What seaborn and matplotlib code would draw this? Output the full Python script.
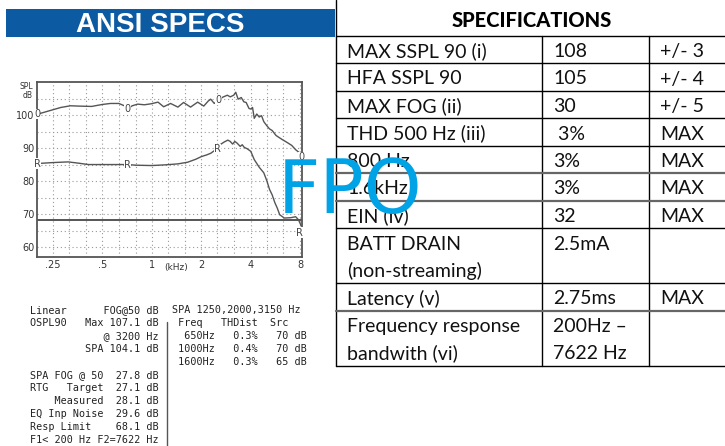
import matplotlib
matplotlib.use("Agg")
import numpy as np
import pandas as pd
import seaborn as sns
import matplotlib.pyplot as plt
from matplotlib.patches import Rectangle
from matplotlib.ticker import NullFormatter

# OSPL90 curve ("0"): kHz / dB SPL
freq_o = [0.20, 0.22, 0.25, 0.28, 0.32, 0.36, 0.43, 0.50, 0.56, 0.63, 0.68, 0.71,
          0.76, 0.82, 0.90, 0.99, 1.09, 1.18, 1.30, 1.44, 1.56, 1.72, 1.90, 2.07,
          2.20, 2.28, 2.40, 2.55, 2.70, 2.88, 3.00, 3.15, 3.24, 3.35, 3.50, 3.63,
          3.75, 3.90, 4.00, 4.10, 4.20, 4.35, 4.50, 4.65, 4.80, 5.00, 5.20, 5.40,
          5.70, 6.20, 6.60, 7.10, 7.50, 7.90, 8.10]
spl_o = [100.2, 100.8, 101.6, 102.3, 102.8, 102.7, 102.6, 103.2, 103.5, 103.5, 102.8, 101.9,
         102.8, 103.3, 103.1, 103.4, 103.9, 102.5, 103.5, 102.4, 103.8, 102.4, 103.9, 102.7,
         104.2, 104.8, 103.5, 104.6, 105.4, 106.0, 105.5, 106.0, 106.9, 104.8, 105.3, 104.0,
         103.8, 102.0, 101.8, 102.3, 99.0, 100.3, 99.4, 99.8, 98.0, 96.8, 95.8, 95.3,
         93.8, 92.6, 91.8, 90.8, 89.5, 88.6, 87.3]

# reference test gain curve ("R")
freq_r = [0.20, 0.25, 0.31, 0.36, 0.41, 0.50, 0.60, 0.71, 0.80, 1.00, 1.20, 1.44,
          1.65, 1.85, 2.00, 2.15, 2.28, 2.40, 2.50, 2.60, 2.75, 2.90, 3.00, 3.10,
          3.20, 3.30, 3.45, 3.55, 3.65, 3.80, 4.00, 4.20, 4.50, 4.80, 5.00, 5.20,
          5.40, 5.60, 5.80, 6.00, 6.40, 7.00, 7.50, 7.80, 8.10]
spl_r = [85.3, 85.6, 85.8, 85.4, 85.0, 85.0, 85.0, 85.0, 84.8, 84.7, 84.9, 85.2,
         85.7, 86.6, 87.4, 87.9, 88.4, 89.2, 89.8, 91.0, 91.8, 92.4, 92.0, 91.2,
         92.0, 91.5, 90.5, 91.0, 90.2, 89.8, 89.0, 86.5, 84.2, 82.5, 80.2, 77.5,
         75.8, 73.5, 71.8, 69.8, 68.8, 68.9, 69.2, 68.3, 66.5]

resp_limit = 68.1
o_mark_freqs = [0.20, 0.71, 2.55, 8.10]
r_mark_freqs = [0.20, 0.71, 2.50, 8.10]

x_ticks = [0.25, 0.5, 1, 2, 4, 8]
x_tick_labels = [".25", ".5", "1", "2", "4", "8"]
third_oct = [0.315, 0.4, 0.63, 0.8, 1.25, 1.6, 2.5, 3.15, 5, 6.3]
y_ticks = [60, 70, 80, 90, 100]
y_minor = [65, 75, 85, 95, 105]

left_lines = [
    "Linear      FOG@50 dB",
    "OSPL90   Max 107.1 dB",
    "            @ 3200 Hz",
    "         SPA 104.1 dB",
    "",
    "SPA FOG @ 50  27.8 dB",
    "RTG   Target  27.1 dB",
    "    Measured  28.1 dB",
    "EQ Inp Noise  29.6 dB",
    "Resp Limit    68.1 dB",
    "F1< 200 Hz F2=7622 Hz",
]
right_lines = [
    "SPA 1250,2000,3150 Hz",
    " Freq   THDist  Src",
    "  650Hz   0.3%   70 dB",
    " 1000Hz   0.4%   70 dB",
    " 1600Hz   0.3%   65 dB",
]

spec_names = ["MAX SSPL 90 (i)", "HFA SSPL 90", "MAX FOG (ii)", "THD 500 Hz (iii)",
              "800 Hz", "1.6kHz", "EIN (iv)", "BATT DRAIN\n(non-streaming)",
              "Latency (v)", "Frequency response\nbandwith (vi)"]
spec_values = ["108", "105", "30", " 3%", "3%", "3%", "32", "2.5mA", "2.75ms",
               "200Hz \u2013\n7622 Hz"]
spec_tols = ["+/- 3", "+/- 4", "+/- 5", "MAX", "MAX", "MAX", "MAX", "", "MAX", ""]

sns.set_theme(style="white")
W, H = 725, 446
fig = plt.figure(figsize=(W / 100, H / 100), dpi=100)

# whole page in pixel coordinates, for banner / table / text block
page = fig.add_axes([0, 0, 1, 1])
page.set_xlim(0, W)
page.set_ylim(H, 0)
page.axis("off")

page.add_patch(Rectangle((6, 9), 329, 28, fc="#0b5aa2", ec="none"))
page.text(160, 32, "ANSI SPECS", color="white", fontsize=20, fontweight="bold",
          family="Liberation Sans", ha="center", va="baseline")

# ---- spec table
tx0, tx1, tx2, tx3 = 336, 542, 649, W
row_h = 27.5
tops = [35.5]
for name in spec_names:
    tops.append(tops[-1] + row_h * (name.count("\n") + 1))
page.plot([tx0, tx0], [0, tops[-1]], color="black", lw=1)
for xc in (tx1, tx2):
    page.plot([xc, xc], [tops[0], tops[-1]], color="black", lw=1)
for i, yl in enumerate(tops):
    grey = i in (5, 6, 9)
    page.plot([tx0, tx3], [yl, yl], color="#666" if grey else "black",
              lw=1.6 if grey else 1)
page.text(532, 27, "SPECIFICATIONS", fontsize=14.5, fontweight="black",
          family="Lato", ha="center", va="baseline", color="black")
tfont = dict(fontsize=14, family="Lato", va="baseline", color="#111")
for i in range(len(spec_names)):
    for j, txt in enumerate(spec_names[i].split("\n")):
        page.text(tx0 + 11, tops[i] + 21.5 + 27 * j, txt, **tfont)
    for j, txt in enumerate(spec_values[i].split("\n")):
        page.text(tx1 + 11, tops[i] + 21.5 + 27 * j, txt, **tfont)
    page.text(tx2 + 11, tops[i] + 21.5, spec_tols[i], **tfont)

# ---- measurement text block
mono = dict(family="DejaVu Sans Mono", fontsize=7.3, va="center", color="#222")
for i, ln in enumerate(left_lines):
    page.text(30, 310 + 13 * i, ln, **mono)
for i, ln in enumerate(right_lines):
    page.text(172, 310 + 13 * i, ln, **mono)
page.plot([167, 167], [322, H], color="#555", lw=1)

# ---- response graph
ax = fig.add_axes([37 / W, 1 - 257 / H, 265 / W, 175 / H])
ax.set_xscale("log", base=2)
df_o = pd.DataFrame({"freq": freq_o, "spl": spl_o})
df_r = pd.DataFrame({"freq": freq_r, "spl": spl_r})
sns.lineplot(data=df_o, x="freq", y="spl", color="#555", lw=1, ax=ax)
sns.lineplot(data=df_r, x="freq", y="spl", color="#555", lw=1, ax=ax)
ax.axhline(resp_limit, color="#555", lw=1.4)

mk = dict(fontsize=7, ha="center", va="center", color="#444",
          bbox=dict(fc="white", ec="none", pad=0.1))
for f in o_mark_freqs:
    i = freq_o.index(f)
    ax.annotate("0", (freq_o[i], spl_o[i]), **mk)
for f in r_mark_freqs:
    i = freq_r.index(f)
    off = (-1, -5) if i == len(freq_r) - 1 else (0, 0)
    ax.annotate("R", (freq_r[i], spl_r[i]), xytext=off, textcoords="offset points", **mk)

ax.set_xlim(0.2, 8.2)
ax.set_ylim(57, 110)
ax.set_xticks(x_ticks)
ax.set_xticklabels(x_tick_labels)
ax.set_xticks(third_oct, minor=True)
ax.xaxis.set_minor_formatter(NullFormatter())
ax.set_yticks(y_ticks)
ax.set_yticks(y_minor, minor=True)
ax.yaxis.set_minor_formatter(NullFormatter())
ax.grid(which="both", color="#999", lw=0.8, linestyle=(0, (1, 2.5)))
ax.tick_params(which="both", length=0, labelsize=7, labelcolor="#333", pad=2)
ax.set_xlabel("")
ax.set_ylabel("")
for s in ax.spines.values():
    s.set_color("#555")
    s.set_linewidth(1.3)
ax.annotate("(kHz)", (1.41, 0), xycoords=("data", "axes fraction"), xytext=(0, -7.5),
            textcoords="offset points", fontsize=6.5, color="#333", ha="center", va="center")
ax.text(-0.015, 0.975, "SPL", transform=ax.transAxes, fontsize=5.5, color="#333",
        ha="right", va="center")
ax.text(-0.015, 0.925, "dB", transform=ax.transAxes, fontsize=5.5, color="#333",
        ha="right", va="center")

# FPO stamp on top of everything
fig.text(350 / W, 1 - 213 / H, "FPO", fontsize=53, family="DejaVu Sans", color="#00a3e6",
         ha="center", va="baseline", zorder=10)

fig.savefig("out.png", dpi=100)
